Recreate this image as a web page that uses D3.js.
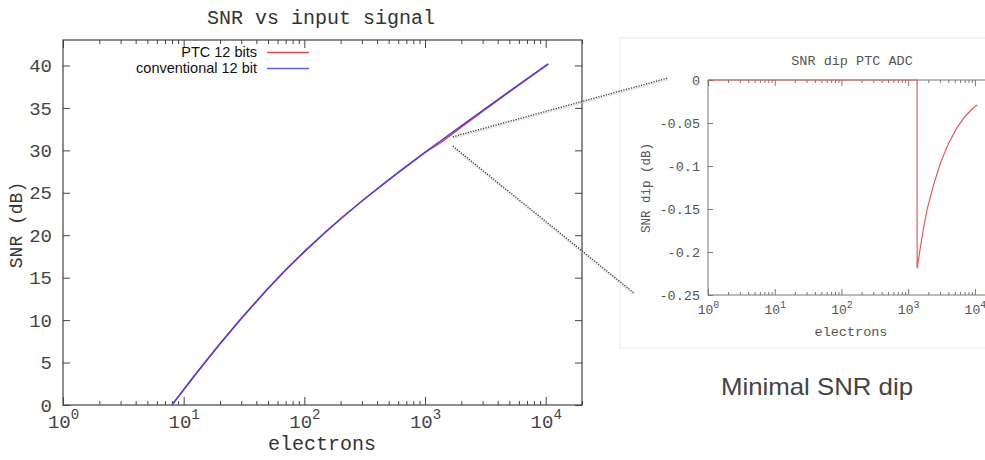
<!DOCTYPE html>
<html>
<head>
<meta charset="utf-8">
<script src="https://cdn.jsdelivr.net/npm/d3@7"></script>
<style>
  html, body { margin: 0; padding: 0; background: #fff; }
  svg { display: block; }
</style>
</head>
<body>
<svg id="chart" width="985" height="460"></svg>
<script>
// ---- Main plot: SNR versus input signal (electrons) ----
const electrons = [8, 9, 10, 12, 15, 20, 30, 50, 70, 100, 150, 200, 300, 500, 700, 1000, 1360, 2000, 3000, 5000, 7000, 10500];
const snrConventional = [0, 0.96, 1.8, 3.26, 5.01, 7.21, 10.2, 13.73, 15.9, 18.07, 20.38, 21.94, 24.03, 26.53, 28.12, 29.76, 31.16, 32.89, 34.69, 36.94, 38.42, 40.19];
const snrPTC = [0, 0.96, 1.8, 3.26, 5.01, 7.21, 10.2, 13.73, 15.9, 18.07, 20.38, 21.94, 24.03, 26.53, 28.12, 29.76, 30.94, 32.74, 34.59, 36.88, 38.38, 40.16];
const seriesNames = ["PTC 12 bits", "conventional 12 bit"];
const snrTicks = [0, 5, 10, 15, 20, 25, 30, 35, 40];
const decadeTicks = [1, 10, 100, 1000, 10000];

// ---- Inset: SNR dip of the PTC ADC ----
const dipElectrons = [1, 1360, 1360, 1600, 1900, 2400, 3000, 4000, 5350, 7000, 9000, 10800];
const dipValues = [0, 0, -0.219, -0.184, -0.152, -0.122, -0.098, -0.074, -0.056, -0.043, -0.034, -0.029];
const dipTicks = [0, -0.05, -0.1, -0.15, -0.2, -0.25];

const svg = d3.select("#chart");
const mono = "'Liberation Mono', 'DejaVu Sans Mono', monospace";
const sans = "'Liberation Sans', Arial, sans-serif";

const minorTicks = [];
for (let d = 1; d < 20000; d *= 10) {
  for (let k = 2; k <= 9; k++) if (d * k <= 20000) minorTicks.push(d * k);
}

function powerLabels(sel, baseSize, expSize, yPos) {
  sel.selectAll(".tick text").each(function(d) {
    const t = d3.select(this);
    t.text(null).attr("y", yPos).attr("dy", 0);
    t.append("tspan").text("10");
    t.append("tspan").attr("font-size", expSize).attr("dy", -baseSize * 0.45).text(Math.round(Math.log10(d)));
  });
}

// ================= main plot =================
const M = { left: 63, right: 582, top: 40, bottom: 405 };
const x = d3.scaleLog().domain([1, 20000]).range([M.left, M.right]);
const y = d3.scaleLinear().domain([0, 43]).range([M.bottom, M.top]);
const axisColor = "#444";

const main = svg.append("g");

// bottom axis with major labels
const gx = main.append("g").attr("transform", `translate(0,${M.bottom})`)
  .call(d3.axisBottom(x).tickValues(decadeTicks).tickSize(-8).tickSizeOuter(0).tickFormat(d => d));
gx.select(".domain").remove();
gx.selectAll(".tick line").attr("stroke", axisColor);
gx.selectAll(".tick text").attr("fill", axisColor).attr("font-family", mono).attr("font-size", 19);
powerLabels(gx, 19, 14, 23);
main.append("g").attr("transform", `translate(0,${M.bottom})`)
  .call(d3.axisBottom(x).tickValues(minorTicks).tickSize(-4).tickFormat(""))
  .call(g => { g.select(".domain").remove(); g.selectAll("line").attr("stroke", axisColor); });
// top mirror ticks
main.append("g").attr("transform", `translate(0,${M.top})`)
  .call(d3.axisTop(x).tickValues(decadeTicks).tickSize(-8).tickFormat(""))
  .call(g => { g.select(".domain").remove(); g.selectAll("line").attr("stroke", axisColor); });
main.append("g").attr("transform", `translate(0,${M.top})`)
  .call(d3.axisTop(x).tickValues(minorTicks).tickSize(-4).tickFormat(""))
  .call(g => { g.select(".domain").remove(); g.selectAll("line").attr("stroke", axisColor); });

// left axis
const gy = main.append("g").attr("transform", `translate(${M.left},0)`)
  .call(d3.axisLeft(y).tickValues(snrTicks).tickSize(-7).tickPadding(11).tickSizeOuter(0));
gy.select(".domain").remove();
gy.selectAll(".tick line").attr("stroke", axisColor);
gy.selectAll(".tick text").attr("fill", axisColor).attr("font-family", mono).attr("font-size", 19);
// right mirror ticks
main.append("g").attr("transform", `translate(${M.right},0)`)
  .call(d3.axisRight(y).tickValues(snrTicks).tickSize(-7).tickFormat(""))
  .call(g => { g.select(".domain").remove(); g.selectAll("line").attr("stroke", axisColor); });

// frame
main.append("rect").attr("x", M.left).attr("y", M.top)
  .attr("width", M.right - M.left).attr("height", M.bottom - M.top)
  .attr("fill", "none").attr("stroke", axisColor).attr("stroke-width", 1.2);

// title and axis labels
main.append("text").attr("x", 321).attr("y", 24).attr("text-anchor", "middle")
  .attr("font-family", mono).attr("font-size", 20).attr("fill", "#333").text("SNR vs input signal");
main.append("text").attr("x", 322).attr("y", 450).attr("text-anchor", "middle")
  .attr("font-family", mono).attr("font-size", 20).attr("fill", "#333").text("electrons");
main.append("text").attr("transform", "translate(22,225) rotate(-90)").attr("text-anchor", "middle")
  .attr("font-family", mono).attr("font-size", 18).attr("fill", "#333").text("SNR (dB)");

// curves
const red = "#e84545", blue = "#4d3fe0";
const line = d3.line().x((d, i) => x(electrons[i])).y(d => y(d));
main.append("path").datum(snrPTC).attr("d", line)
  .attr("fill", "none").attr("stroke", red).attr("stroke-width", 1.5);
main.append("path").datum(snrConventional).attr("d", line)
  .attr("fill", "none").attr("stroke", blue).attr("stroke-width", 1.5);

// legend
const legend = main.append("g");
[red, "#5b5be6"].forEach((c, i) => {
  const ly = 52 + i * 16;
  legend.append("text").attr("x", 257).attr("y", ly + 5).attr("text-anchor", "end")
    .attr("font-family", sans).attr("font-size", 14.5).attr("fill", "#111").text(seriesNames[i]);
  legend.append("line").attr("x1", 267).attr("x2", 309).attr("y1", ly + 0.5).attr("y2", ly + 0.5)
    .attr("stroke", c).attr("stroke-width", 1.3);
});

// ================= inset =================
const I = { left: 708, right: 995, top: 80, bottom: 295 };
const xi = d3.scaleLog().domain([1, 20000]).range([I.left, I.right]);
const yi = d3.scaleLinear().domain([-0.25, 0]).range([I.bottom, I.top]);
const insetAxis = "#777", insetText = "#555";
const inset = svg.append("g");

inset.append("rect").attr("x", 620).attr("y", 38).attr("width", 380).attr("height", 310)
  .attr("fill", "#fff").attr("stroke", "#ececec").attr("stroke-width", 1);

const gxi = inset.append("g").attr("transform", `translate(0,${I.bottom})`)
  .call(d3.axisBottom(xi).tickValues(decadeTicks).tickSize(-6).tickSizeOuter(0).tickFormat(d => d));
gxi.select(".domain").remove();
gxi.selectAll(".tick line").attr("stroke", insetAxis);
gxi.selectAll(".tick text").attr("fill", insetText).attr("font-family", mono).attr("font-size", 13);
powerLabels(gxi, 13, 10, 19);
inset.append("g").attr("transform", `translate(0,${I.bottom})`)
  .call(d3.axisBottom(xi).tickValues(minorTicks).tickSize(-3).tickFormat(""))
  .call(g => { g.select(".domain").remove(); g.selectAll("line").attr("stroke", insetAxis); });
inset.append("g").attr("transform", `translate(0,${I.top})`)
  .call(d3.axisTop(xi).tickValues(decadeTicks).tickSize(-6).tickFormat(""))
  .call(g => { g.select(".domain").remove(); g.selectAll("line").attr("stroke", insetAxis); });
inset.append("g").attr("transform", `translate(0,${I.top})`)
  .call(d3.axisTop(xi).tickValues(minorTicks).tickSize(-3).tickFormat(""))
  .call(g => { g.select(".domain").remove(); g.selectAll("line").attr("stroke", insetAxis); });

const gyi = inset.append("g").attr("transform", `translate(${I.left},0)`)
  .call(d3.axisLeft(yi).tickValues(dipTicks).tickSize(-5).tickPadding(8).tickSizeOuter(0)
    .tickFormat(d => d === 0 ? "0" : String(d)));
gyi.select(".domain").remove();
gyi.selectAll(".tick line").attr("stroke", insetAxis);
gyi.selectAll(".tick text").attr("fill", insetText).attr("font-family", mono).attr("font-size", 13.5);

inset.append("path")
  .attr("d", `M${I.right},${I.top}H${I.left}V${I.bottom}H${I.right}`)
  .attr("fill", "none").attr("stroke", insetAxis).attr("stroke-width", 1);

inset.append("text").attr("x", 852).attr("y", 65).attr("text-anchor", "middle")
  .attr("font-family", mono).attr("font-size", 13.5).attr("fill", insetText).text("SNR dip PTC ADC");
inset.append("text").attr("x", 851).attr("y", 336).attr("text-anchor", "middle")
  .attr("font-family", mono).attr("font-size", 13.5).attr("fill", insetText).text("electrons");
inset.append("text").attr("transform", "translate(650,188) rotate(-90)").attr("text-anchor", "middle")
  .attr("font-family", mono).attr("font-size", 12.5).attr("fill", insetText).text("SNR dip (dB)");

const dipLine = d3.line().x((d, i) => xi(dipElectrons[i])).y(d => yi(d));
inset.append("path").datum(dipValues).attr("d", dipLine)
  .attr("fill", "none").attr("stroke", "#e85a5a").attr("stroke-width", 1.2);

// caption under the inset
svg.append("text").attr("x", 721).attr("y", 395)
  .attr("font-family", sans).attr("font-size", 24).attr("fill", "#444")
  .attr("textLength", 192).attr("lengthAdjust", "spacingAndGlyphs").text("Minimal SNR dip");

// dotted zoom connectors from the curve to the inset
const zx = x(1700);
const connectors = [
  [[zx, y(31.6)], [668, 78]],
  [[zx, y(30.5)], [634, 293]]
];
const conn = svg.append("g");
connectors.forEach(([a, b]) => {
  conn.append("line").attr("x1", a[0]).attr("y1", a[1] + 1.5).attr("x2", b[0]).attr("y2", b[1] + 1.5)
    .attr("stroke", "#ccc").attr("stroke-width", 1.5).attr("opacity", 0.5);
  conn.append("line").attr("x1", a[0]).attr("y1", a[1]).attr("x2", b[0]).attr("y2", b[1])
    .attr("stroke", "#333").attr("stroke-width", 1.3).attr("stroke-dasharray", "1.2,1.4");
});
</script>
</body>
</html>
